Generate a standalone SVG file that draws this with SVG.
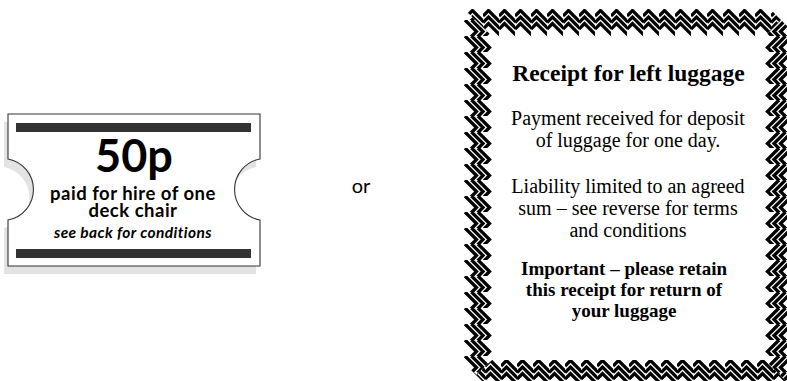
<svg xmlns="http://www.w3.org/2000/svg" width="787" height="381" viewBox="0 0 787 381">
<style>
.zz{fill:none;stroke:#000;stroke-width:3.3;stroke-linejoin:miter;stroke-linecap:butt}
.tk{font-family:Lato,"Open Sans","DejaVu Sans",sans-serif;fill:#000;text-anchor:middle}
.rc{font-family:"Liberation Serif","Times New Roman",serif;fill:#000;text-anchor:middle}
</style>
<defs>
<pattern id="pt" patternUnits="userSpaceOnUse" x="467" y="9" width="16" height="28">
<polyline class="zz" points="0,7 5.5,1.5 17,13"/>
<polyline class="zz" points="0,13.5 5.5,8 17,19.5"/>
<polyline class="zz" points="0,20 5.5,14.5 17,26"/>
</pattern>
<pattern id="pb" patternUnits="userSpaceOnUse" x="485" y="359" width="16" height="28">
<polyline class="zz" points="0,7 5.5,1.5 17,13"/>
<polyline class="zz" points="0,13.5 5.5,8 17,19.5"/>
<polyline class="zz" points="0,20 5.5,14.5 17,26"/>
</pattern>
<pattern id="pl" patternUnits="userSpaceOnUse" x="463" y="36" width="29" height="16">
<polyline class="zz" points="15,0 26.5,11.5 21,17"/>
<polyline class="zz" points="8.5,0 20,11.5 14.5,17"/>
<polyline class="zz" points="2,0 13.5,11.5 8,17"/>
</pattern>
<pattern id="pr" patternUnits="userSpaceOnUse" x="765" y="36" width="29" height="16">
<polyline class="zz" points="14,0 2.5,11.5 8,17"/>
<polyline class="zz" points="20.5,0 9,11.5 14.5,17"/>
<polyline class="zz" points="27,0 15.5,11.5 21,17"/>
</pattern>
</defs>

<g id="ticket">
<path d="M4,122 H256 V167 A31,31 0 0 0 256,228 V274 H4 V228 A31,31 0 0 0 4,167 Z" fill="#e3e3e3"/>
<path d="M8,114 H260 V159 A31,31 0 0 0 260,220 V266 H8 V220 A31,31 0 0 0 8,159 Z" fill="#fff" stroke="#333" stroke-width="1.1"/>
<rect x="16" y="123" width="235" height="9" fill="#333"/>
<rect x="16" y="249" width="235" height="9" fill="#333"/>
<text class="tk" x="134" y="172" font-size="45" font-weight="bold">50p</text>
<text class="tk" x="133" y="200" font-size="18.5" font-weight="bold" letter-spacing="0.5">paid for hire of one</text>
<text class="tk" x="133" y="217" font-size="18.5" font-weight="bold" letter-spacing="0.5">deck chair</text>
<text class="tk" x="133" y="238" font-size="15.5" font-style="italic" font-weight="bold" letter-spacing="0.4">see back for conditions</text>
</g>

<g id="or">
<text class="tk" x="361" y="193" font-size="20">or</text>
</g>

<g id="receipt">
<polygon points="466,11 469,8 769,8 781,20 765,36 492,36" fill="url(#pt)"/>
<polygon points="466,11 492,36 492,360 476,375 463,362 463,14" fill="url(#pl)"/>
<polygon points="476,375 492,360 765,360 788,383 783,388 489,388" fill="url(#pb)"/>
<polygon points="781,20 793,32 793,378 788,383 765,360 765,36" fill="url(#pr)"/>
<text class="rc" x="628.5" y="81" font-size="23.5" font-weight="bold">Receipt for left luggage</text>
<text class="rc" x="628" y="125" font-size="20">Payment received for deposit</text>
<text class="rc" x="628" y="147" font-size="20">of luggage for one day.</text>
<text class="rc" x="628" y="193" font-size="20">Liability limited to an agreed</text>
<text class="rc" x="628" y="215" font-size="20">sum – see reverse for terms</text>
<text class="rc" x="628" y="237" font-size="20">and conditions</text>
<text class="rc" x="624" y="275" font-size="19" font-weight="bold">Important – please retain</text>
<text class="rc" x="624" y="296" font-size="19" font-weight="bold">this receipt for return of</text>
<text class="rc" x="624" y="317" font-size="19" font-weight="bold">your luggage</text>
</g>
</svg>
